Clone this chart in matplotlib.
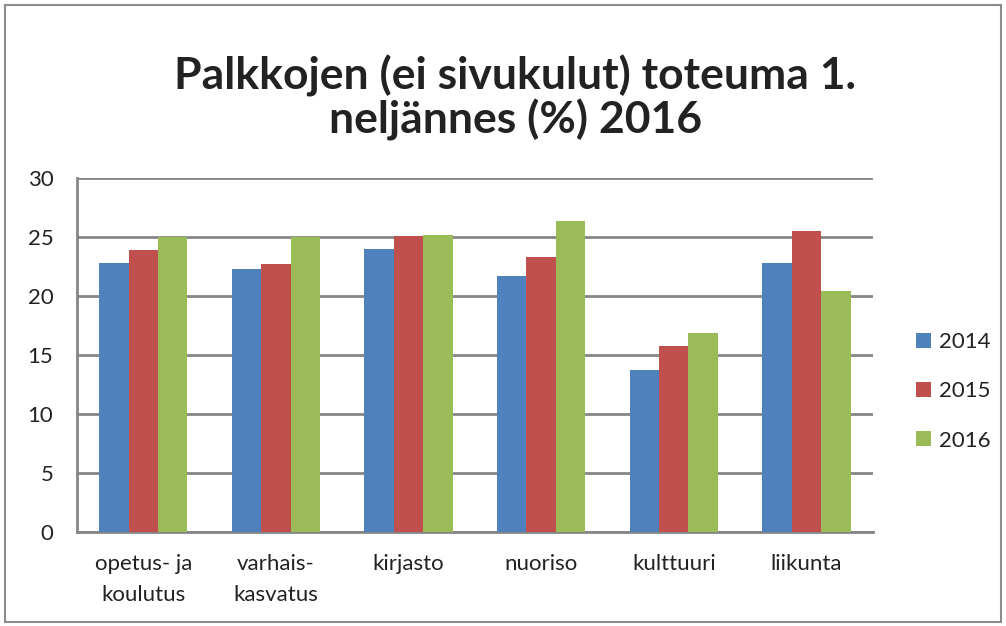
import matplotlib.pyplot as plt
import matplotlib.patches as mpatches
import numpy as np

categories = ["opetus- ja\nkoulutus", "varhais-\nkasvatus", "kirjasto", "nuoriso", "kulttuuri", "liikunta"]
years = ["2014", "2015", "2016"]
v2014 = [22.8, 22.3, 24.0, 21.7, 13.7, 22.8]
v2015 = [23.9, 22.7, 25.1, 23.3, 15.8, 25.5]
v2016 = [25.0, 25.0, 25.2, 26.4, 16.9, 20.4]
colors = ["#4F81BD", "#C0504D", "#9BBB59"]

plt.rcParams['font.family'] = ['Lato', 'DejaVu Sans']
plt.rcParams['text.color'] = '#222222'

fig = plt.figure(figsize=(10.06, 6.26), dpi=100)
fig.patches.append(mpatches.Rectangle((0.005, 0.006), 0.99, 0.986, transform=fig.transFigure,
                                      fill=False, edgecolor='#8c8c8c', linewidth=1.5))

ax = fig.add_axes([0.0765, 0.150, 0.791, 0.5655])
x = np.arange(len(categories))
w = 0.222
for i, (vals, yr) in enumerate(zip([v2014, v2015, v2016], years)):
    ax.bar(x + (i - 1) * w, vals, width=w, color=colors[i], label=yr, zorder=3)

ax.set_xlim(-0.5, len(categories) - 0.5)
ax.set_ylim(0, 30)
ax.set_yticks(range(0, 31, 5))
ax.yaxis.grid(True, color='#868686', linewidth=2, zorder=0)
ax.set_xticks(x)
ax.set_xticklabels(categories, fontsize=16, linespacing=1.65)
ax.tick_params(axis='both', length=0, labelsize=16, labelcolor='#222222')
ax.tick_params(axis='x', pad=16)
ax.tick_params(axis='y', pad=17)
for s in ['top', 'right']:
    ax.spines[s].set_visible(False)
for s in ['left', 'bottom']:
    ax.spines[s].set_color('#868686')
    ax.spines[s].set_linewidth(2)

fig.text(0.512, 0.843, "Palkkojen (ei sivukulut) toteuma 1.\nneljännes (%) 2016",
         ha='center', va='center', fontsize=32, fontweight='bold', linespacing=1.05)

fig.legend(loc='center left', bbox_to_anchor=(0.911, 0.375), frameon=False,
           borderpad=0, borderaxespad=0,
           fontsize=16, handlelength=0.65, handleheight=0.65, labelspacing=1.32,
           handletextpad=0.36)

fig.savefig("out.png", dpi=100)
